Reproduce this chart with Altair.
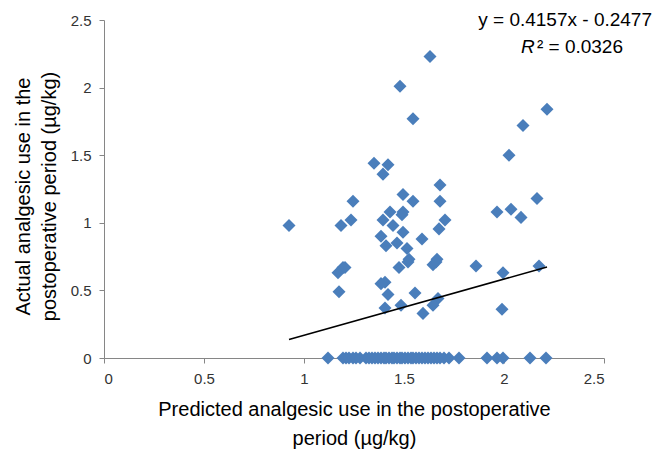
import altair as alt
import pandas as pd

# ---- data ----
pred_nonzero = [0.925, 1.63, 1.48, 1.545, 2.095, 2.025, 2.215, 2.165, 2.175,
                1.68, 1.68, 1.705, 1.675, 1.59, 1.965, 2.035, 2.085,
                1.665, 1.645, 1.86, 1.995, 1.99, 1.67, 1.645, 1.595,
                1.35, 1.42, 1.395, 1.245, 1.235, 1.185, 1.495, 1.545,
                1.43, 1.495, 1.49, 1.395, 1.445, 1.495, 1.385, 1.41,
                1.465, 1.515, 1.525, 1.195, 1.205, 1.475, 1.17, 1.175,
                1.405, 1.385, 1.52, 1.42, 1.405, 1.485, 1.555, 1.66]
actual_nonzero = [0.98, 2.23, 2.01, 1.77, 1.72, 1.50, 1.84, 1.18, 0.68,
                  1.28, 1.16, 1.02, 0.955, 0.88, 1.08, 1.10, 1.04,
                  0.73, 0.69, 0.68, 0.63, 0.36, 0.44, 0.39, 0.33,
                  1.44, 1.43, 1.36, 1.16, 1.02, 0.98, 1.21, 1.16,
                  1.08, 1.08, 1.06, 1.02, 0.98, 0.93, 0.90, 0.83,
                  0.85, 0.81, 0.73, 0.67, 0.67, 0.67, 0.63, 0.49,
                  0.56, 0.55, 0.71, 0.47, 0.37, 0.39, 0.48, 0.71]
pred_zero = [1.12, 1.195, 1.21, 1.225, 1.245, 1.26, 1.28, 1.31, 1.325, 1.34,
             1.355, 1.37, 1.385, 1.40, 1.41, 1.425, 1.44, 1.45, 1.465, 1.48,
             1.49, 1.505, 1.52, 1.535, 1.545, 1.56, 1.575, 1.59, 1.605, 1.62,
             1.635, 1.65, 1.665, 1.68, 1.70, 1.725, 1.775, 1.915, 1.965,
             1.995, 2.13, 2.21]

slope = 0.4157
intercept = -0.2477
x_ticks = [0, 0.5, 1, 1.5, 2, 2.5]
y_ticks = [0, 0.5, 1, 1.5, 2, 2.5]
x_title = ["Predicted analgesic use in the postoperative", "period (µg/kg)"]
y_title = ["Actual analgesic use in the", "postoperative period (µg/kg)"]
eq_text = "y = 0.4157x - 0.2477"
r2_letter = "R"
r2_rest = "² = 0.0326"

# ---- tables ----
pred = pred_nonzero + pred_zero
actual = actual_nonzero + [0.0] * len(pred_zero)
df = pd.DataFrame({"pred": pred, "actual": actual})
xmin, xmax = min(pred), max(pred)
line_df = pd.DataFrame({"pred": [xmin, xmax],
                        "actual": [slope * xmin + intercept, slope * xmax + intercept]})

FONT = "Liberation Sans"
AXIS_GREY = "#868686"
LABEL_COL = "#333333"

xscale = alt.Scale(domain=[0, 2.5], nice=False, zero=False)
yscale = alt.Scale(domain=[0, 2.5], nice=False, zero=False)

xaxis = alt.Axis(values=x_ticks, format="~g", grid=False, title=x_title,
                 domainColor=AXIS_GREY, tickColor=AXIS_GREY, tickSize=5,
                 labelFont=FONT, labelFontSize=15, labelColor=LABEL_COL,
                 labelPadding=8, titleFont=FONT, titleFontSize=20,
                 titleFontWeight="normal", titleColor="#000000",
                 titleLineHeight=29, titleBaseline="alphabetic", titleY=57)
yaxis = alt.Axis(values=y_ticks, format="~g", grid=False, title=y_title,
                 domainColor=AXIS_GREY, tickColor=AXIS_GREY, tickSize=5,
                 labelFont=FONT, labelFontSize=15, labelColor=LABEL_COL,
                 labelPadding=8, titleFont=FONT, titleFontSize=20,
                 titleFontWeight="normal", titleColor="#000000",
                 titleLineHeight=26, titleBaseline="alphabetic",
                 titleX=-75, titleY=176, titleAngle=270)

points = alt.Chart(df).mark_point(shape="diamond", filled=True, size=170,
                                  color="#4A7EBB", opacity=1).encode(
    x=alt.X("pred:Q", scale=xscale, axis=xaxis),
    y=alt.Y("actual:Q", scale=yscale, axis=yaxis),
)

line = alt.Chart(line_df).mark_line(color="black", strokeWidth=1.6).encode(
    x=alt.X("pred:Q", scale=xscale),
    y=alt.Y("actual:Q", scale=yscale),
)

eq = alt.Chart(pd.DataFrame({"t": [eq_text]})).mark_text(
    align="right", baseline="middle", font=FONT, fontSize=19, color="#000000"
).encode(x=alt.value(548), y=alt.value(0), text="t:N")

r_letter = alt.Chart(pd.DataFrame({"t": [r2_letter]})).mark_text(
    align="left", baseline="middle", font=FONT, fontSize=19, fontStyle="italic",
    color="#000000"
).encode(x=alt.value(417), y=alt.value(27), text="t:N")

r_rest = alt.Chart(pd.DataFrame({"t": [r2_rest]})).mark_text(
    align="right", baseline="middle", font=FONT, fontSize=19, color="#000000"
).encode(x=alt.value(519), y=alt.value(27), text="t:N")

chart = alt.layer(points, line, eq, r_letter, r_rest).properties(
    width=500, height=338,
    autosize=alt.AutoSizeParams(type="none"),
    padding={"left": 96, "top": 12, "right": 54, "bottom": 94},
).configure_view(stroke=None)

chart.save("out.html", embed_options={"renderer": "svg", "actions": False})
